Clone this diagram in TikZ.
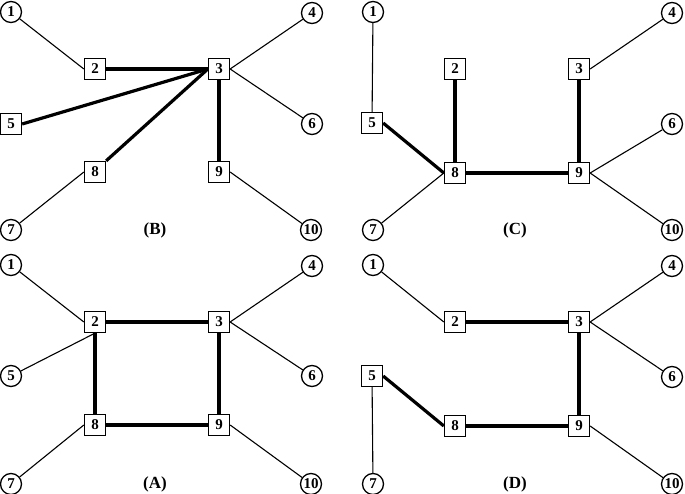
\documentclass[tikz,border=0pt]{standalone}
\usepackage{fontspec}
\setmainfont{Liberation Serif}
\usepackage{tikz}
\usetikzlibrary{positioning}

\begin{document}
\begin{tikzpicture}[x=1pt,y=-1pt,
    sq/.style={draw,rectangle,line width=1.3pt,minimum size=21pt,inner sep=0pt,fill=white,
        font=\bfseries\fontsize{15}{15}\selectfont},
    cir/.style={draw,circle,line width=1.3pt,minimum size=21pt,inner sep=0pt,fill=white,
        font=\bfseries\fontsize{15}{15}\selectfont},
    lite/.style={line width=1.1pt},
    heavy/.style={line width=3.2pt},
    tag/.style={font=\bfseries\fontsize{17}{17}\selectfont}]
    \useasboundingbox (0,0) rectangle (685,494);
    % (B)
    \node[cir] (b_1) at (11,12) {1};
    \node[sq] (b_2) at (95,69) {2};
    \node[sq] (b_3) at (219,69) {3};
    \node[cir] (b_4) at (312,13) {4};
    \node[sq] (b_5) at (11,124) {5};
    \node[cir] (b_6) at (312,124) {6};
    \node[cir] (b_7) at (11,230) {7};
    \node[sq] (b_8) at (95,172) {8};
    \node[sq] (b_9) at (219,172) {9};
    \node[cir] (b_10) at (311,230) {10};
    \node[tag] (b_t) at (155,230) {(B)};
    \path[lite]
        (b_1) edge (b_2.west)
        (b_4) edge (b_3.east)
        (b_6) edge (b_3.east)
        (b_7) edge (b_8.west)
        (b_10) edge (b_9.east);
    \path[heavy]
        (b_2) edge (b_3)
        (b_5.east) edge (b_3.west)
        (b_8.north east) edge (b_3.west)
        (b_3) edge (b_9);
    % (C)
    \node[cir] (c_1) at (373,12) {1};
    \node[sq] (c_2) at (455,69) {2};
    \node[sq] (c_3) at (579,69) {3};
    \node[cir] (c_4) at (672,13) {4};
    \node[sq] (c_5) at (372,123) {5};
    \node[cir] (c_6) at (672,124) {6};
    \node[cir] (c_7) at (373,230) {7};
    \node[sq] (c_8) at (455,173) {8};
    \node[sq] (c_9) at (579,173) {9};
    \node[cir] (c_10) at (672,230) {10};
    \node[tag] (c_t) at (515,230) {(C)};
    \path[lite]
        (c_1) edge (c_5)
        (c_4) edge (c_3.east)
        (c_6) edge (c_9.east)
        (c_10) edge (c_9.east)
        (c_7) edge (c_8.west);
    \path[heavy]
        (c_5.east) edge (c_8.west)
        (c_2) edge (c_8)
        (c_8) edge (c_9)
        (c_3) edge (c_9);
    % (A)
    \node[cir] (a_1) at (11,265) {1};
    \node[sq] (a_2) at (95,322) {2};
    \node[sq] (a_3) at (219,322) {3};
    \node[cir] (a_4) at (312,266) {4};
    \node[cir] (a_5) at (11,376) {5};
    \node[cir] (a_6) at (312,376) {6};
    \node[cir] (a_7) at (11,484) {7};
    \node[sq] (a_8) at (95,425) {8};
    \node[sq] (a_9) at (219,425) {9};
    \node[cir] (a_10) at (311,484) {10};
    \node[tag] (a_t) at (155,484) {(A)};
    \path[lite]
        (a_1) edge (a_2.west)
        (a_5) edge (a_2.south)
        (a_4) edge (a_3.east)
        (a_6) edge (a_3.east)
        (a_7) edge (a_8.west)
        (a_10) edge (a_9.east);
    \path[heavy]
        (a_2) edge (a_3)
        (a_3) edge (a_9)
        (a_9) edge (a_8)
        (a_8) edge (a_2);
    % (D)
    \node[cir] (d_1) at (373,265) {1};
    \node[sq] (d_2) at (455,322) {2};
    \node[sq] (d_3) at (579,322) {3};
    \node[cir] (d_4) at (672,266) {4};
    \node[sq] (d_5) at (372,376) {5};
    \node[cir] (d_6) at (672,377) {6};
    \node[cir] (d_7) at (373,484) {7};
    \node[sq] (d_8) at (455,426) {8};
    \node[sq] (d_9) at (579,426) {9};
    \node[cir] (d_10) at (672,484) {10};
    \node[tag] (d_t) at (515,484) {(D)};
    \path[lite]
        (d_1) edge (d_2.west)
        (d_4) edge (d_3.east)
        (d_6) edge (d_3.east)
        (d_5) edge (d_7)
        (d_10) edge (d_9.east);
    \path[heavy]
        (d_2) edge (d_3)
        (d_3) edge (d_9)
        (d_9) edge (d_8)
        (d_5.east) edge (d_8.west);
\end{tikzpicture}
\end{document}
